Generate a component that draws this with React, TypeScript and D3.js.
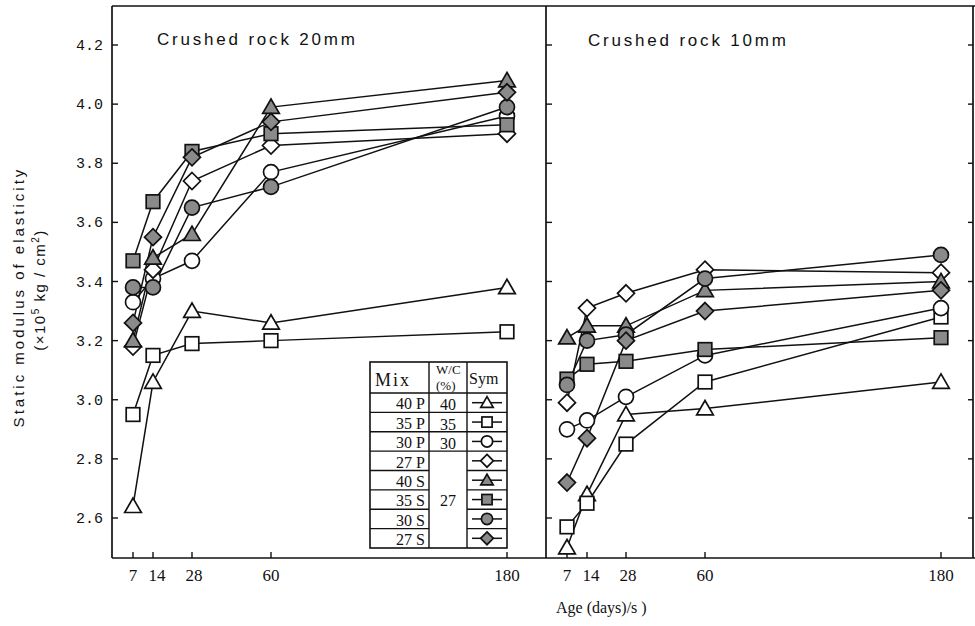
import React from 'react';
import * as d3 from 'd3';

// ages (days) on the x axis
const days = [7, 14, 28, 60, 180];
const yTicks = [2.6, 2.8, 3.0, 3.2, 3.4, 3.6, 3.8, 4.0, 4.2];

const mixes = ['40P', '35P', '30P', '27P', '40S', '35S', '30S', '27S'];
const wcLabels = ['40', '35', '30', '27'];
const symbols = ['triangle', 'square', 'circle', 'diamond', 'triangle', 'square', 'circle', 'diamond'];
const filled = [false, false, false, false, true, true, true, true];

// crushed rock 20mm
const r20_40P = [2.64, 3.06, 3.30, 3.26, 3.38];
const r20_35P = [2.95, 3.15, 3.19, 3.20, 3.23];
const r20_30P = [3.33, 3.41, 3.47, 3.77, 3.96];
const r20_27P = [3.18, 3.44, 3.74, 3.86, 3.90];
const r20_40S = [3.20, 3.48, 3.56, 3.99, 4.08];
const r20_35S = [3.47, 3.67, 3.84, 3.90, 3.93];
const r20_30S = [3.38, 3.38, 3.65, 3.72, 3.99];
const r20_27S = [3.26, 3.55, 3.82, 3.94, 4.04];

// crushed rock 10mm
const r10_40P = [2.50, 2.68, 2.95, 2.97, 3.06];
const r10_35P = [2.57, 2.65, 2.85, 3.06, 3.28];
const r10_30P = [2.90, 2.93, 3.01, 3.15, 3.31];
const r10_27P = [2.99, 3.31, 3.36, 3.44, 3.43];
const r10_40S = [3.21, 3.25, 3.25, 3.37, 3.40];
const r10_35S = [3.07, 3.12, 3.13, 3.17, 3.21];
const r10_30S = [3.05, 3.20, 3.22, 3.41, 3.49];
const r10_27S = [2.72, 2.87, 3.20, 3.30, 3.37];

const rock20 = [r20_40P, r20_35P, r20_30P, r20_27P, r20_40S, r20_35S, r20_30S, r20_27S];
const rock10 = [r10_40P, r10_35P, r10_30P, r10_27P, r10_40S, r10_35S, r10_30S, r10_27S];

const W = 975;
const H = 626;
const top = 6;
const bottom = 558;
const leftX = 112;
const midX = 546;
const rightX = 973;
const tickOffsets = [21, 41, 80, 159, 395];

const y = d3.scaleLinear().domain([2.6, 4.2]).range([518, 45]);
const xLeft = d3.scaleLinear().domain(days).range(tickOffsets.map((o) => leftX + o));
const xRight = d3.scaleLinear().domain(days).range(tickOffsets.map((o) => midX + o));

const GRAY = '#8a8a8a';
const INK = '#111';

function Marker({ kind, fill, x, y, s = 1 }) {
  const f = fill ? GRAY : '#fff';
  const common = { fill: f, stroke: INK, strokeWidth: 1.7 };
  if (kind === 'circle') return <circle cx={x} cy={y} r={7.5 * s} {...common} />;
  if (kind === 'square') {
    const h = 6.8 * s;
    return <rect x={x - h} y={y - h} width={2 * h} height={2 * h} {...common} />;
  }
  if (kind === 'diamond') {
    const h = 8.5 * s;
    return <path d={`M${x},${y - h}L${x + h},${y}L${x},${y + h}L${x - h},${y}Z`} {...common} />;
  }
  const path = d3.symbol(d3.symbolTriangle, 120 * s * s)();
  return <path d={path} transform={`translate(${x},${y + 1.5 * s})`} {...common} />;
}

function Panel({ data, x }) {
  const line = d3
    .line()
    .x((d, i) => x(days[i]))
    .y((d) => y(d));
  return (
    <g>
      {data.map((vals, i) => (
        <path key={'l' + i} d={line(vals)} fill="none" stroke={INK} strokeWidth={1.5} />
      ))}
      {data.map((vals, i) =>
        vals.map((v, j) => (
          <Marker key={'m' + i + '-' + j} kind={symbols[i]} fill={filled[i]} x={x(days[j])} y={y(v)} />
        ))
      )}
    </g>
  );
}

function Legend() {
  const x0 = 370;
  const c1 = 429;
  const c2 = 467;
  const x1 = 507;
  const y0 = 362;
  const hdr = 393;
  const rowH = (548 - hdr) / mixes.length;
  const serif = 'Liberation Serif, serif';
  const rows = mixes.map((m, i) => hdr + i * rowH);
  return (
    <g fontFamily={serif} fill={INK}>
      <rect x={x0} y={y0} width={x1 - x0} height={548 - y0} fill="#fff" stroke={INK} strokeWidth={1.6} />
      <line x1={c1} x2={c1} y1={y0} y2={548} stroke={INK} strokeWidth={1.4} />
      <line x1={c2} x2={c2} y1={y0} y2={548} stroke={INK} strokeWidth={1.4} />
      {rows.map((ry, i) => (
        <line key={'h' + i} x1={x0} x2={i >= 4 ? c1 : x1} y1={ry} y2={ry} stroke={INK} strokeWidth={1.4} />
      ))}
      {rows.slice(4).map((ry, i) => (
        <line key={'hs' + i} x1={c2} x2={x1} y1={ry} y2={ry} stroke={INK} strokeWidth={1.4} />
      ))}
      <text x={x0 + 5} y={386} fontSize={18} letterSpacing={2}>Mix</text>
      <text x={c1 + 7} y={374} fontSize={13}>W/C</text>
      <text x={c1 + 7} y={390} fontSize={13}>(%)</text>
      <text x={c2 + 2} y={384} fontSize={16}>Sym</text>
      {mixes.map((m, i) => (
        <text key={'t' + i} x={c1 - 4} y={rows[i] + rowH - 3} fontSize={16} textAnchor="end">
          {m.slice(0, 2) + ' ' + m.slice(2)}
        </text>
      ))}
      {wcLabels.slice(0, 3).map((w, i) => (
        <text key={'w' + i} x={(c1 + c2) / 2} y={rows[i] + rowH - 2} fontSize={16} textAnchor="middle">
          {w}
        </text>
      ))}
      <text x={(c1 + c2) / 2} y={506} fontSize={16} textAnchor="middle">{wcLabels[3]}</text>
      {mixes.map((m, i) => {
        const cy = rows[i] + rowH / 2;
        const cx = (c2 + x1) / 2;
        return (
          <g key={'s' + i}>
            <line x1={cx - 15} x2={cx + 15} y1={cy} y2={cy} stroke={INK} strokeWidth={1.5} />
            <Marker kind={symbols[i]} fill={filled[i]} x={cx} y={cy} s={0.75} />
          </g>
        );
      })}
    </g>
  );
}

export default function App() {
  const mono = 'Liberation Mono, monospace';
  const serif = 'Liberation Serif, serif';
  const sans = 'Liberation Sans Narrow, Liberation Sans, sans-serif';
  return (
    <svg width={W} height={H} style={{ position: 'absolute', left: 0, top: 0, background: '#fff' }}>
      <rect x={0} y={0} width={W} height={H} fill="#fff" />
      {/* frame */}
      <g stroke={INK} strokeWidth={1.7} fill="none">
        <line x1={leftX} x2={W} y1={top} y2={top} />
        <line x1={leftX} x2={W} y1={bottom} y2={bottom} />
        <line x1={leftX} x2={leftX} y1={top} y2={bottom} />
        <line x1={midX} x2={midX} y1={top} y2={bottom} />
        <line x1={rightX} x2={rightX} y1={top} y2={bottom} />
      </g>
      {/* ticks */}
      <g stroke={INK} strokeWidth={1.4}>
        {yTicks.map((t) => (
          <g key={'yt' + t}>
            <line x1={leftX} x2={leftX + 6} y1={y(t)} y2={y(t)} />
            <line x1={midX} x2={midX + 6} y1={y(t)} y2={y(t)} />
            <line x1={rightX - 5} x2={rightX} y1={y(t)} y2={y(t)} />
          </g>
        ))}
        {days.map((d) => (
          <g key={'xt' + d}>
            <line x1={xLeft(d)} x2={xLeft(d)} y1={bottom} y2={bottom - 6} />
            <line x1={xRight(d)} x2={xRight(d)} y1={bottom} y2={bottom - 6} />
          </g>
        ))}
      </g>
      <g fontFamily={mono} fontSize={15} fill={INK} textAnchor="end">
        {yTicks.map((t) => (
          <text key={'yl' + t} x={103} y={y(t) + 5}>
            {t.toFixed(1)}
          </text>
        ))}
      </g>
      <g fontFamily={serif} fontSize={17} fill={INK} textAnchor="middle">
        {days.map((d) => (
          <g key={'xl' + d}>
            <text x={xLeft(d) + (d === 14 ? 4 : d === 28 ? 2 : 0)} y={581}>{d}</text>
            <text x={xRight(d) + (d === 14 ? 4 : d === 28 ? 2 : 0)} y={581}>{d}</text>
          </g>
        ))}
      </g>
      <text x={556} y={613} fontFamily={serif} fontSize={16} fill={INK}>Age (days)/s )</text>
      {/* y label */}
      <g fontFamily="Liberation Sans, sans-serif" fill={INK} textAnchor="middle">
        <text transform="translate(24,297) rotate(-90)" fontSize={15} letterSpacing={3}>
          Static modulus of elasticity
        </text>
        <text transform="translate(45,290) rotate(-90)" fontSize={15} letterSpacing={1.5}>
          (×10<tspan dy={-6} fontSize={10}>5</tspan><tspan dy={6}> kg / cm</tspan>
          <tspan dy={-6} fontSize={10}>2</tspan><tspan dy={6}>)</tspan>
        </text>
      </g>
      <text x={157} y={45} fontFamily={sans} fontSize={17} letterSpacing={2.8} fill={INK}>Crushed rock 20mm</text>
      <text x={588} y={46} fontFamily={sans} fontSize={17} letterSpacing={2.8} fill={INK}>Crushed rock 10mm</text>
      <Panel data={rock20} x={xLeft} />
      <Panel data={rock10} x={xRight} />
      <Legend />
    </svg>
  );
}
